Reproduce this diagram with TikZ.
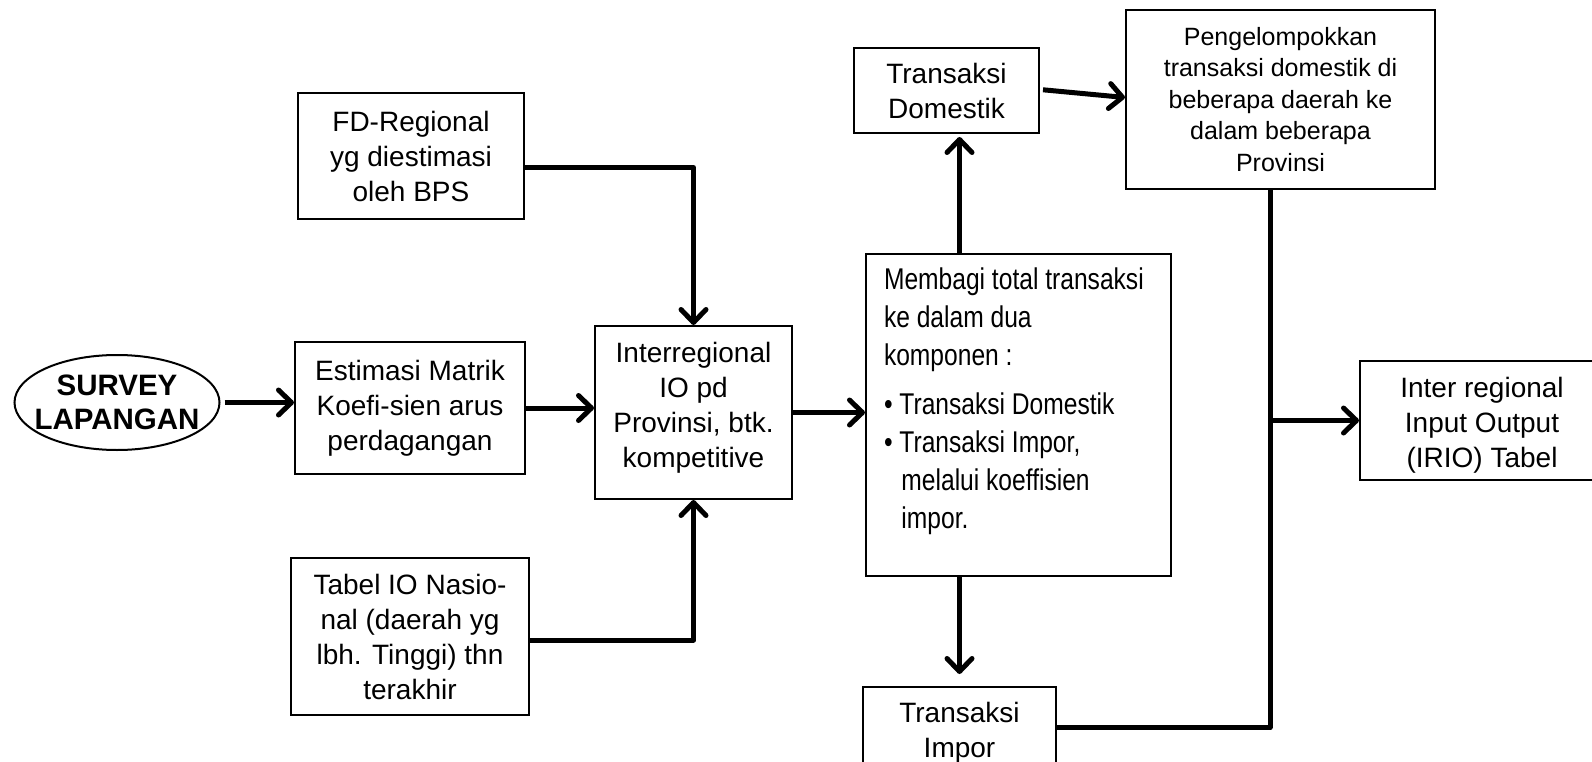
\documentclass[tikz,border=0pt]{standalone}
\usepackage{fontspec}
\setmainfont{Liberation Sans}
\newfontfamily\narrowfont{Liberation Sans}[FakeStretch=0.82]
\usetikzlibrary{arrows.meta,shapes.geometric,calc}
\newcommand\regfont{\fontsize{28}{35}\selectfont}
\newcommand\grpfont{\fontsize{25}{31.5}\selectfont}
\newcommand\svfont{\fontsize{29.5}{33.5}\selectfont\bfseries}
\begin{document}
\begin{tikzpicture}[x=1pt,y=-1pt,
  box/.style={draw, line width=2pt, align=center, inner sep=0pt, font=\regfont},
  % box whose text sits a little off the vertical middle
  offtext/.style 2 args={label={[align=center, font=\regfont, yshift=#1]center:#2}},
  conn/.style={line width=5pt, line join=round,
    -{Straight Barb[length=13pt,width=25pt,line width=5pt,round]}},
  wire/.style={line width=5pt, line join=round}
]
\useasboundingbox[fill=white] (0,0) rectangle (1592,762);

% input boxes
\node[draw, ellipse, line width=2pt, minimum width=205pt, minimum height=95pt,
      inner xsep=-12pt, inner ysep=0pt, align=center, font=\svfont] (sv) at (117,402.5) {SURVEY\\LAPANGAN};
\node[box, minimum width=226pt, minimum height=126pt] (fd) at (411,156)
  {FD-Regional\\yg diestimasi\\oleh BPS};
\node[box, minimum width=230pt, minimum height=132pt] (est) at (410,408)
  {Estimasi Matrik\\Koefi-sien arus\\perdagangan};
\node[box, minimum width=238pt, minimum height=157pt] (tbl) at (410,636.5)
  {Tabel IO Nasio-\\nal (daerah yg\\lbh. Tinggi) thn\\terakhir};
\node[box, minimum width=197pt, minimum height=173pt,
      offtext={5pt}{Interregional\\IO pd\\Provinsi, btk.\\kompetitive}] (irp) at (693.5,412.5) {};

% splitting step
\node[draw, line width=2pt, anchor=north west, inner xsep=18pt, inner ysep=14pt] (mem) at (865,253)
  {\parbox[c][294pt][t]{269pt}{\narrowfont\fontsize{30}{38}\selectfont
   Membagi total transaksi\\ke dalam dua\\komponen :\par\vspace{11pt}
   • Transaksi Domestik\\• Transaksi Impor,\\\phantom{• }\hspace{2pt}melalui koeffisien\\\phantom{• }\hspace{2pt}impor.}};

\node[box, minimum width=185pt, minimum height=85pt] (dom) at (946.5,90.5) {Transaksi\\Domestik};
\node[box, minimum width=193pt, minimum height=81pt,
      offtext={-5pt}{Transaksi\\Impor}] (imp) at (959.5,727.5) {};
\node[box, minimum width=309pt, minimum height=179pt, font=\grpfont] (grp) at (1280.5,99.5)
  {Pengelompokkan\\transaksi domestik di\\beberapa daerah ke\\dalam beberapa\\Provinsi};
\node[box, minimum width=244pt, minimum height=119pt,
      offtext={-5pt}{Inter regional\\Input Output\\(IRIO) Tabel}] (irio) at (1482,420.5) {};

% connectors
\draw[conn, shorten <=4pt] (sv.east) -- (sv.east -| est.west);
\draw[conn] (est.east) -- (est.east -| irp.west);
\draw[conn] ([yshift=-11.5pt]fd.east) -| (irp.north);
\draw[conn] ([yshift=-3.5pt]tbl.east) -| (irp.south);
\draw[conn] (irp.east) -- (irp.east -| mem.west);
\draw[conn, shorten >=3pt] (imp.north |- mem.north) -- (imp.north |- dom.south);
\draw[conn, shorten >=12pt] (imp.north |- mem.south) -- (imp.north);
\draw[conn, shorten <=3pt] ([yshift=1pt]dom.east) -- ([yshift=2pt]grp.west);

\coordinate (gtop) at ([xshift=-10.5pt]grp.south);
\coordinate (gbend) at (gtop |- imp.east);
\draw[wire] (gtop) -- (gbend) -- (imp.east);
\draw[conn] (gtop |- irio.west) -- (irio.west);
\end{tikzpicture}
\end{document}
